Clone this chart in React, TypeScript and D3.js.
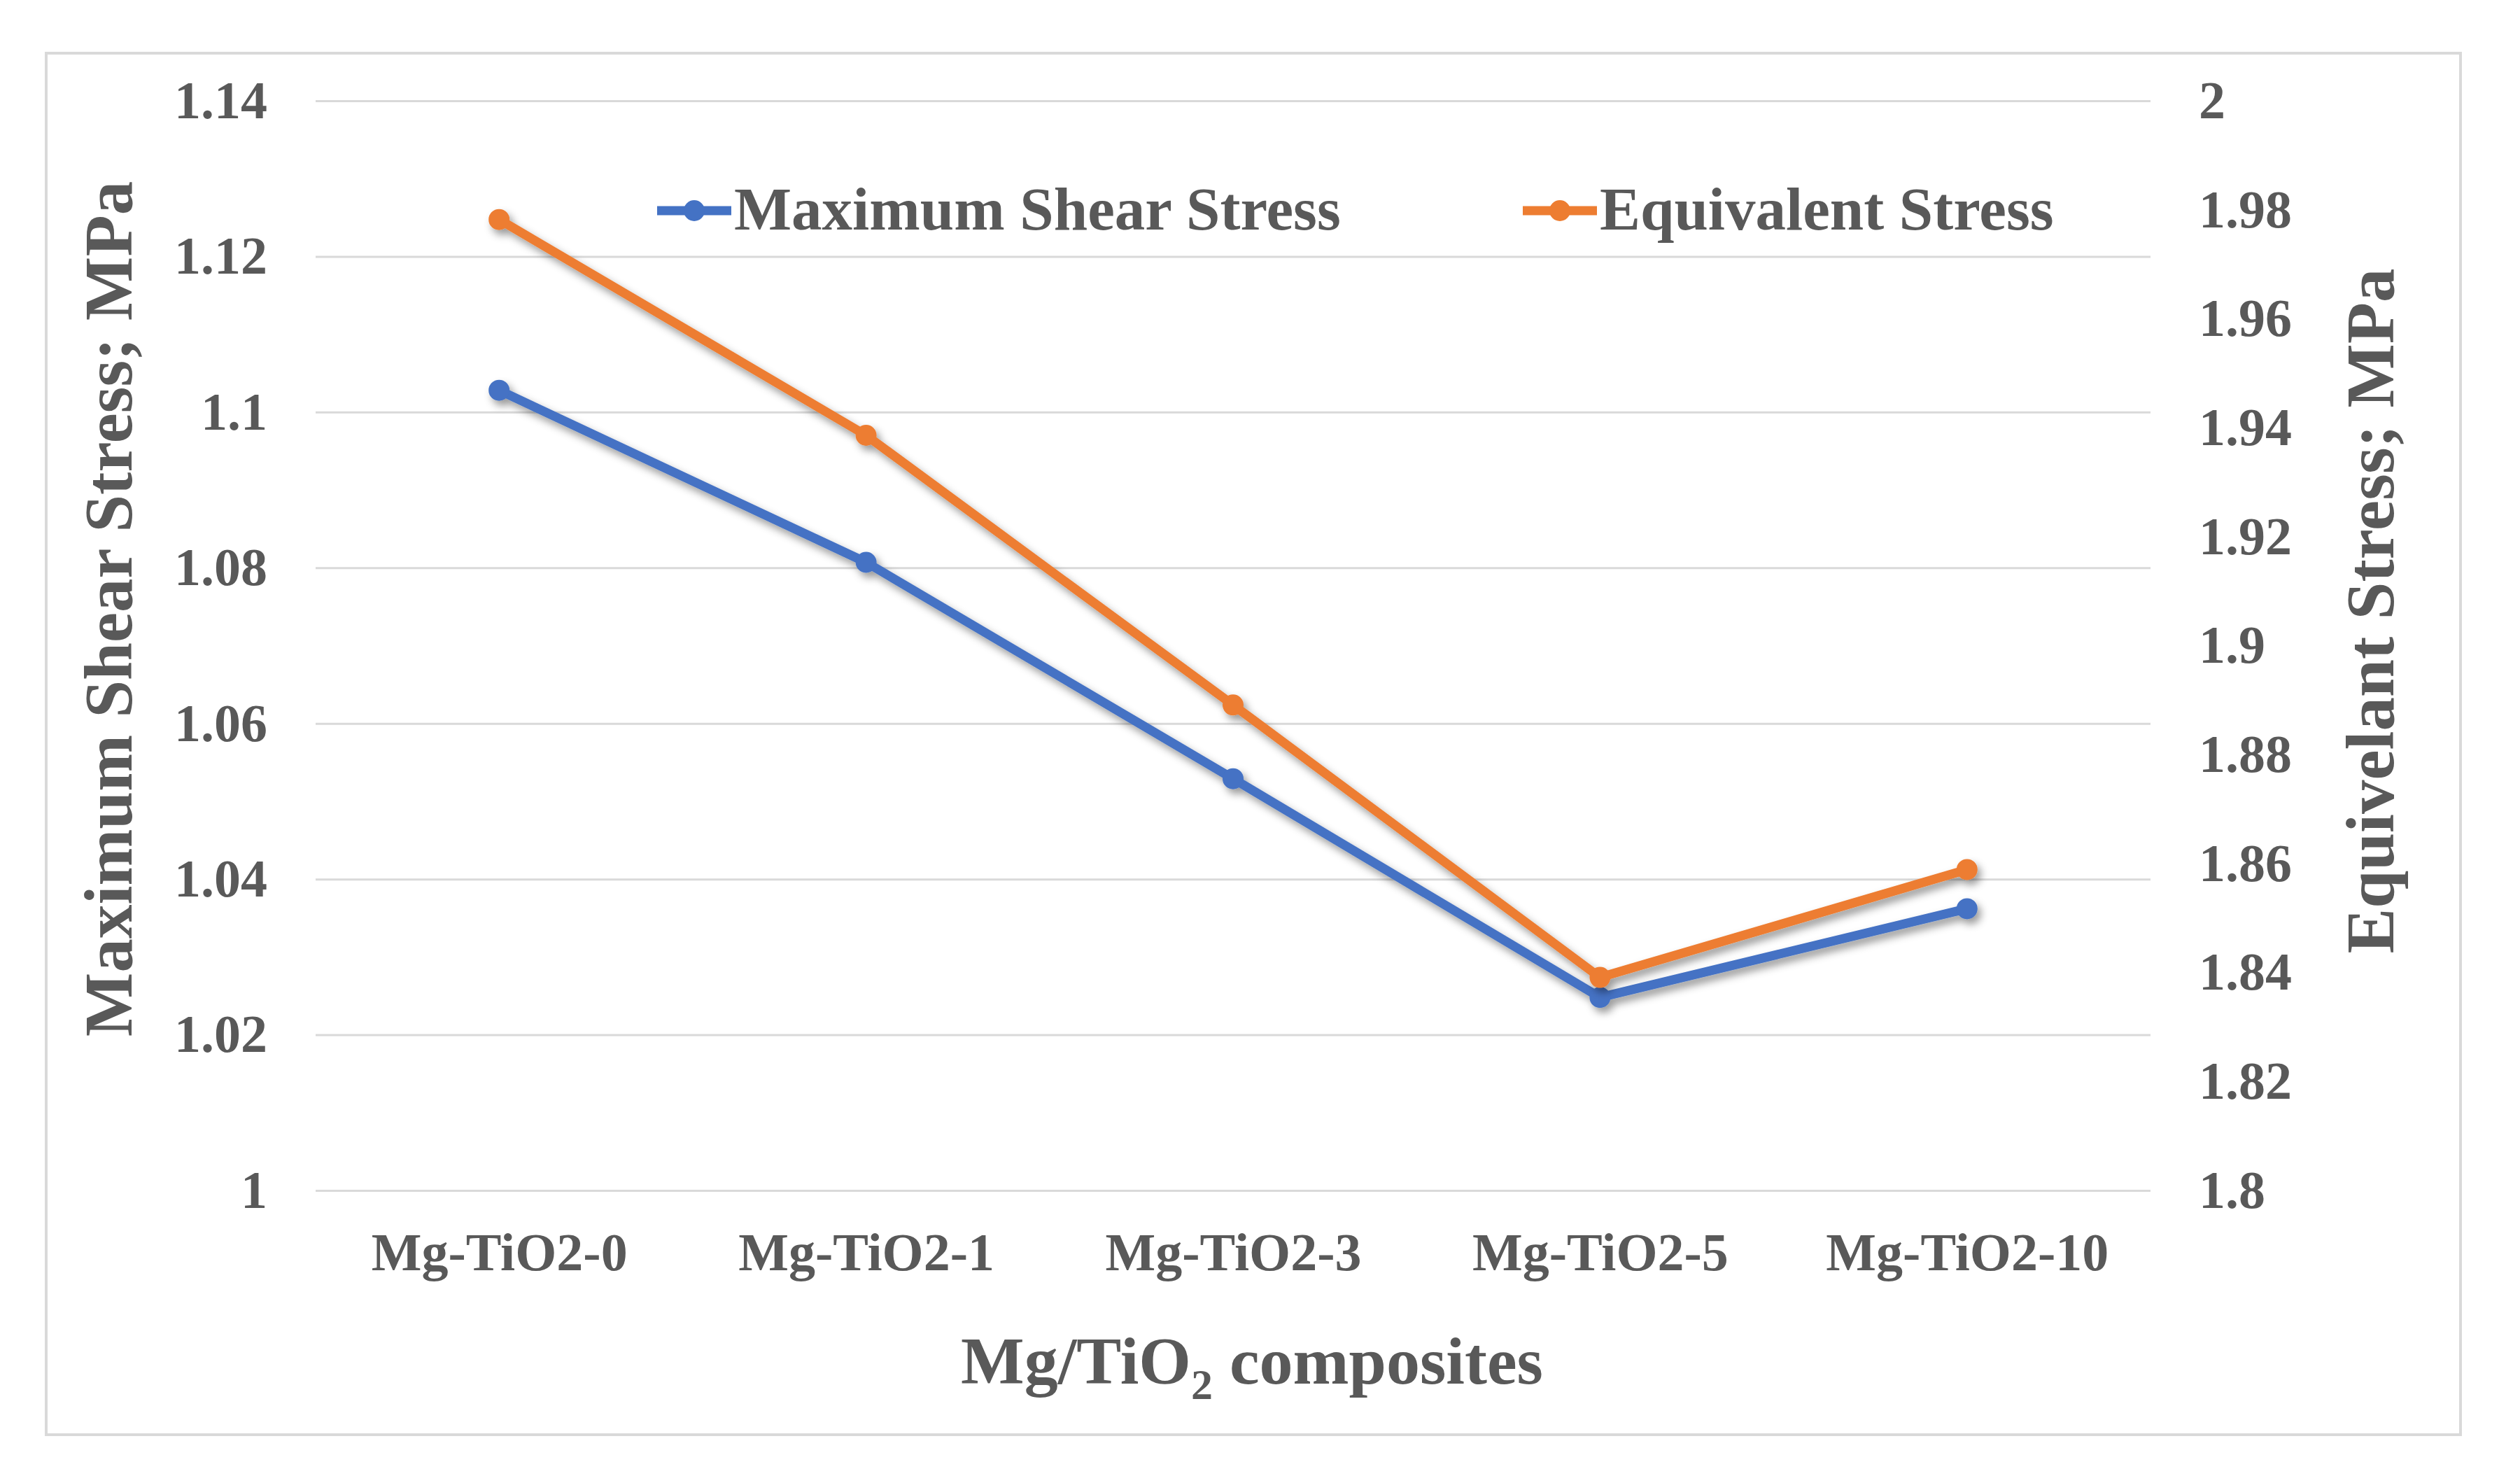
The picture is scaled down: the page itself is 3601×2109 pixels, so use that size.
import React, { useRef, useEffect } from 'react';
import * as d3 from 'd3';

const categories = ['Mg-TiO2-0', 'Mg-TiO2-1', 'Mg-TiO2-3', 'Mg-TiO2-5', 'Mg-TiO2-10'];
const maxShearStress = [1.1028, 1.0807, 1.0529, 1.0248, 1.0362];
const equivalentStress = [1.9782, 1.9386, 1.8891, 1.8391, 1.8589];
const leftTicks = [1, 1.02, 1.04, 1.06, 1.08, 1.1, 1.12, 1.14];
const rightTicks = [1.8, 1.82, 1.84, 1.86, 1.88, 1.9, 1.92, 1.94, 1.96, 1.98, 2];

const seriesNames = ['Maximum Shear Stress', 'Equivalent Stress'];
const seriesColors = ['#4472C4', '#ED7D31'];

const FONT = '"Liberation Serif", "Times New Roman", serif';
const TEXT = '#595959';

const App: React.FC = () => {
  const svgRef = useRef<SVGSVGElement>(null);

  useEffect(() => {
    document.body.style.margin = '0';
    if (!svgRef.current) return;

    const svg = d3.select(svgRef.current);
    svg.selectAll('*').remove();

    const width = 3601;
    const height = 2109;
    const left = 451, right = 3073, top = 144, bottom = 1701;

    svg.attr('width', width).attr('height', height).style('display', 'block')
      .style('background', '#fff');

    const defs = svg.append('defs');
    const f = defs.append('filter').attr('id', 'shadow')
      .attr('x', '-10%').attr('y', '-10%').attr('width', '130%').attr('height', '130%');
    f.append('feDropShadow').attr('dx', 5).attr('dy', 7).attr('stdDeviation', 6)
      .attr('flood-color', '#000').attr('flood-opacity', 0.4);

    // chart border
    svg.append('rect')
      .attr('x', 66).attr('y', 76).attr('width', 3450).attr('height', 1974)
      .attr('fill', '#fff').attr('stroke', '#d9d9d9').attr('stroke-width', 4);

    const x = d3.scalePoint<string>().domain(categories).range([left, right]).padding(0.5);
    const yL = d3.scaleLinear().domain([1, 1.14]).range([bottom, top]);
    const yR = d3.scaleLinear().domain([1.8, 2]).range([bottom, top]);

    // left axis + gridlines
    const gl = svg.append('g').attr('transform', `translate(${left},0)`)
      .call(d3.axisLeft(yL).tickValues(leftTicks).tickSize(-(right - left)).tickPadding(69)
        .tickFormat(d => String(d)));
    gl.select('.domain').remove();
    gl.selectAll('.tick line').attr('stroke', '#d9d9d9').attr('stroke-width', 3);
    gl.selectAll('.tick text')
      .style('font-family', FONT).style('font-weight', 'bold').style('font-size', '76px')
      .attr('fill', TEXT);

    // right axis
    const gr = svg.append('g').attr('transform', `translate(${right},0)`)
      .call(d3.axisRight(yR).tickValues(rightTicks).tickSize(0).tickPadding(69)
        .tickFormat(d => String(d)));
    gr.select('.domain').remove();
    gr.selectAll('.tick text')
      .style('font-family', FONT).style('font-weight', 'bold').style('font-size', '76px')
      .attr('fill', TEXT);

    // category axis
    const gx = svg.append('g').attr('transform', `translate(0,${bottom})`)
      .call(d3.axisBottom(x).tickSize(0));
    gx.select('.domain').remove();
    gx.selectAll('.tick text')
      .attr('dy', null).attr('y', 114)
      .style('font-family', FONT).style('font-weight', 'bold').style('font-size', '76px')
      .attr('fill', TEXT);

    // lines
    const series = [
      { values: maxShearStress, y: yL, color: seriesColors[0] },
      { values: equivalentStress, y: yR, color: seriesColors[1] },
    ];
    series.forEach(s => {
      const g = svg.append('g').attr('filter', 'url(#shadow)');
      const line = d3.line<number>()
        .x((_, i) => x(categories[i]) as number)
        .y(d => s.y(d));
      g.append('path')
        .datum(s.values)
        .attr('d', line)
        .attr('fill', 'none')
        .attr('stroke', s.color)
        .attr('stroke-width', 13)
        .attr('stroke-linejoin', 'round');
      g.selectAll('circle')
        .data(s.values)
        .enter().append('circle')
        .attr('cx', (_, i) => x(categories[i]) as number)
        .attr('cy', d => s.y(d))
        .attr('r', 15)
        .attr('fill', s.color);
    });

    // legend
    const legendX = [939, 2176];
    const legendY = 301;
    seriesNames.forEach((name, i) => {
      const g = svg.append('g');
      g.append('line')
        .attr('x1', legendX[i]).attr('x2', legendX[i] + 106)
        .attr('y1', legendY).attr('y2', legendY)
        .attr('stroke', seriesColors[i]).attr('stroke-width', 13);
      g.append('circle')
        .attr('cx', legendX[i] + 53).attr('cy', legendY).attr('r', 15)
        .attr('fill', seriesColors[i]);
      g.append('text')
        .attr('x', legendX[i] + 110).attr('y', 328)
        .style('font-family', FONT).style('font-weight', 'bold').style('font-size', '87px')
        .attr('fill', TEXT)
        .text(name);
    });

    // x axis title
    const xt = svg.append('text')
      .attr('x', 1789).attr('y', 1977)
      .attr('text-anchor', 'middle')
      .style('font-family', FONT).style('font-weight', 'bold').style('font-size', '96px')
      .attr('fill', TEXT);
    xt.append('tspan').text('Mg/TiO');
    xt.append('tspan').attr('dy', 22).style('font-size', '62px').text('2');
    xt.append('tspan').attr('dy', -22).text(' composites');

    // y axis titles
    svg.append('text')
      .attr('transform', `translate(188,870) rotate(-90)`)
      .attr('text-anchor', 'middle')
      .style('font-family', FONT).style('font-weight', 'bold').style('font-size', '97px')
      .attr('fill', TEXT)
      .text('Maximum Shear Stress; MPa');

    svg.append('text')
      .attr('transform', `translate(3420,873) rotate(-90)`)
      .attr('text-anchor', 'middle')
      .style('font-family', FONT).style('font-weight', 'bold').style('font-size', '97px')
      .attr('fill', TEXT)
      .text('Equivelant Stress; MPa');
  }, []);

  return <svg ref={svgRef}></svg>;
};

export default App;
